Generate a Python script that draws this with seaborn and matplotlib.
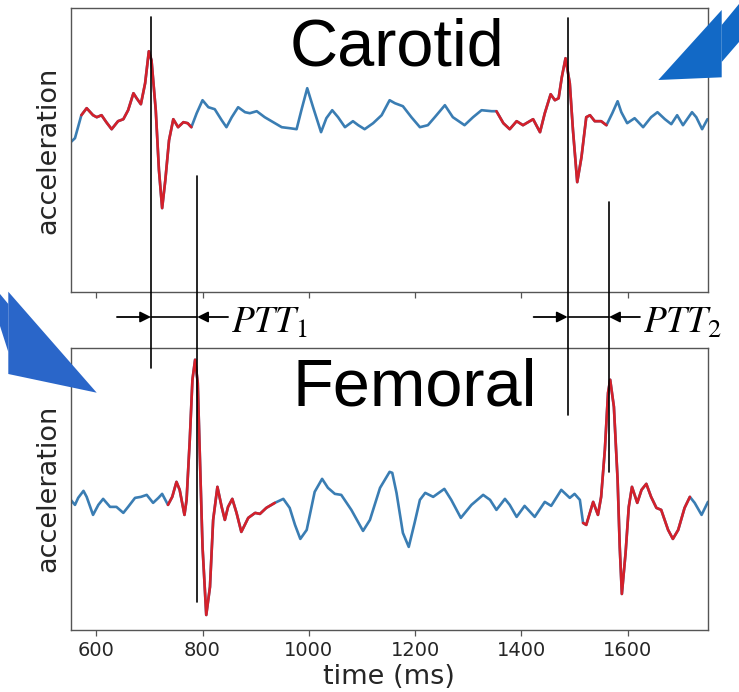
import numpy as np
import pandas as pd
import seaborn as sns
import matplotlib.pyplot as plt
import matplotlib.transforms as mtransforms
from matplotlib.lines import Line2D
from matplotlib.patches import Polygon

# carotid (top) acceleration trace
top_t = [552, 560, 572, 582, 594, 601, 610, 619, 629, 641, 651, 660, 670, 676, 684, 692, 699, 704, 712, 718,
         724, 730, 737, 745, 754, 764, 772, 779, 789, 800, 811, 823, 836, 845, 855, 867, 880, 889, 902, 917,
         933, 949, 964, 977, 986, 997, 1008, 1023, 1033, 1044, 1055, 1068, 1083, 1093, 1105, 1121, 1137, 1152, 1162, 1177,
         1193, 1209, 1224, 1237, 1256, 1271, 1293, 1309, 1325, 1344, 1353, 1366, 1378, 1391, 1403, 1422, 1435, 1444, 1455, 1463,
         1470, 1476, 1483, 1491, 1497, 1505, 1513, 1522, 1529, 1538, 1550, 1560, 1571, 1581, 1588, 1599, 1613, 1629, 1644, 1656,
         1670, 1682, 1693, 1704, 1721, 1729, 1740, 1750]
top_v = [8, 12, 35, 42, 35, 33, 35, 28, 21, 29, 31, 40, 57, 52, 46, 67, 99, 90, 40, -20,
         -58, -30, 10, 31, 23, 28, 27, 23, 37, 50, 43, 41, 30, 23, 33, 43, 38, 37, 39, 33,
         28, 23, 22, 21, 40, 62, 43, 18, 32, 40, 33, 23, 29, 25, 21, 27, 35, 50, 47, 44,
         33, 23, 25, 33, 45, 33, 25, 33, 40, 39, 39, 27, 21, 29, 25, 31, 18, 37, 56, 50,
         52, 73, 92, 67, 20, -32, -7, 33, 35, 29, 29, 25, 37, 49, 38, 27, 32, 23, 33, 38,
         31, 26, 35, 25, 38, 33, 21, 31]
top_red = [(572, 779), (1353, 1560)]

# femoral (bottom) acceleration trace
bot_t = [552, 560, 566, 576, 582, 594, 604, 613, 626, 638, 651, 660, 673, 684, 695, 707, 717, 724, 735, 743,
         751, 757, 766, 770, 776, 781, 786, 791, 795, 800, 807, 814, 820, 828, 836, 842, 848, 856, 864, 873,
         886, 899, 908, 920, 936, 952, 964, 974, 984, 996, 1011, 1025, 1036, 1049, 1061, 1080, 1102, 1115, 1134, 1152,
         1157, 1165, 1177, 1188, 1199, 1209, 1219, 1234, 1255, 1268, 1286, 1306, 1328, 1341, 1353, 1369, 1378, 1391, 1406, 1425,
         1444, 1456, 1475, 1491, 1500, 1510, 1516, 1522, 1535, 1544, 1550, 1557, 1563, 1567, 1574, 1581, 1585, 1589, 1596, 1602,
         1608, 1618, 1626, 1635, 1644, 1654, 1663, 1676, 1685, 1695, 1707, 1717, 1726, 1739, 1751]
bot_v = [-10, -15, -8, -1, -7, -25, -15, -9, -17, -17, -23, -17, -8, -7, -5, -13, -8, -4, -15, -7,
         8, 0, -25, -10, 50, 110, 130, 107, 33, -57, -125, -97, -30, 3, -17, -30, -17, -9, -23, -42,
         -28, -23, -24, -18, -13, -9, -18, -35, -49, -40, -2, 11, 2, -4, -5, -20, -41, -30, 2, 18,
         17, -3, -43, -57, -33, -10, -3, -7, 1, -10, -28, -15, -5, -10, -20, -9, -15, -27, -16, -27,
         -12, -16, 0, -8, -4, -10, -33, -35, -12, -25, -7, 40, 97, 110, 83, 10, -57, -104, -63, -17,
         3, -13, 0, 6, -7, -18, -20, -40, -49, -40, -18, -7, -13, -25, -12]
bot_red = [(735, 936), (1516, 1717)]

# foot-of-wave markers (ms)
carotid_marks = [703, 1487]
femoral_marks = [790, 1565]
ptt_labels = [r'$PTT_1$', r'$PTT_2$']
xticks = [600, 800, 1000, 1200, 1400, 1600]

BLUE = '#3a7db3'
RED = '#d4202a'
GRAY = '#555555'

sns.set_style("white")
plt.rcParams['font.family'] = ['DejaVu Sans']
plt.rcParams['mathtext.fontset'] = 'stix'

W, H = 739, 692
fig = plt.figure(figsize=(W / 100, H / 100), dpi=100)
ax1 = fig.add_axes([0.0957, 0.578, 0.8623, 0.410])
ax2 = fig.add_axes([0.0957, 0.0896, 0.8623, 0.4079])


def draw_trace(ax, t, v, red_ranges):
    df = pd.DataFrame({'t': t, 'v': v})
    sns.lineplot(data=df, x='t', y='v', ax=ax, color=BLUE, lw=1.9, estimator=None, sort=False,
                 solid_joinstyle='round', solid_capstyle='round')
    for lo, hi in red_ranges:
        seg = df[(df.t >= lo) & (df.t <= hi)]
        sns.lineplot(data=seg, x='t', y='v', ax=ax, color=RED, lw=1.9, estimator=None, sort=False,
                     solid_joinstyle='round', solid_capstyle='round')


draw_trace(ax1, top_t, top_v, top_red)
draw_trace(ax2, bot_t, bot_v, bot_red)

for ax, ylim in [(ax1, (-142, 142)), (ax2, (-140, 142))]:
    ax.set_xlim(552, 1751)
    ax.set_ylim(*ylim)
    ax.set_xticks(xticks)
    ax.set_yticks([])
    for sp in ax.spines.values():
        sp.set_visible(True)
        sp.set_color(GRAY)
        sp.set_linewidth(1.0)
    ax.tick_params(axis='x', direction='out', length=4.5, width=0.9, color=GRAY,
                   labelsize=14, labelcolor='#262626', bottom=True)
    ax.set_ylabel('acceleration', fontsize=19.5, color='#262626')
    ax.yaxis.set_label_coords(-0.015, 0.5)

ax1.set_xlabel('')
ax1.tick_params(labelbottom=False)
ax2.set_xlabel('time (ms)', fontsize=19.5, color='#262626', labelpad=3)

# lines and arrows that run across both panels: x in data, y in figure fraction
tr = mtransforms.blended_transform_factory(ax1.transData, fig.transFigure)


def fy(py):
    return 1 - py / H


vlines = [(carotid_marks[0], 17, 368), (femoral_marks[0], 176, 602),
          (carotid_marks[1], 18, 415), (femoral_marks[1], 202, 472)]
for x, y0, y1 in vlines:
    fig.add_artist(Line2D([x, x], [fy(y0), fy(y1)], transform=tr, color='black', lw=1.2))

y_arrow = fy(317)
for c, f, lab in zip(carotid_marks, femoral_marks, ptt_labels):
    fig.add_artist(Line2D([c, f], [y_arrow, y_arrow], transform=tr, color='black', lw=1.2))
    ax1.annotate('', xy=(c, y_arrow), xytext=(c - 64, y_arrow),
                 xycoords=('data', 'figure fraction'), textcoords=('data', 'figure fraction'),
                 arrowprops=dict(arrowstyle='-|>', color='black', lw=1.3, mutation_scale=16,
                                 shrinkA=0, shrinkB=0), annotation_clip=False)
    ax1.annotate('', xy=(f, y_arrow), xytext=(f + 58, y_arrow),
                 xycoords=('data', 'figure fraction'), textcoords=('data', 'figure fraction'),
                 arrowprops=dict(arrowstyle='-|>', color='black', lw=1.3, mutation_scale=16,
                                 shrinkA=0, shrinkB=0), annotation_clip=False)
    ax1.text(f + 64, fy(323), lab, transform=tr, fontsize=27, ha='left', va='center', color='black')

# big panel titles
fig.text(290 / W, fy(65), 'Carotid', fontsize=48, family=['Liberation Sans', 'DejaVu Sans'],
         ha='left', va='baseline', color='black')
fig.text(293 / W, fy(406), 'Femoral', fontsize=48, family=['Liberation Sans', 'DejaVu Sans'],
         ha='left', va='baseline', color='black')


# blue block arrows (decoration), pixel outlines converted to figure fraction
def poly(pts, color):
    fig.add_artist(Polygon([(x / W, fy(y)) for x, y in pts], closed=True, transform=fig.transFigure,
                           facecolor=color, edgecolor='none', zorder=5))


poly([(721.7, 25), (739, 4), (739, 42), (721.7, 62)], '#1269c6')
poly([(658.3, 80), (721.7, 10), (721.7, 77.3)], '#1269c6')
poly([(0, 294), (8.3, 304), (8.3, 352), (0, 326)], '#2a66c9')
poly([(96.7, 392.7), (8.3, 374), (8.3, 291.7)], '#2a66c9')

fig.savefig('out.png', dpi=100)
